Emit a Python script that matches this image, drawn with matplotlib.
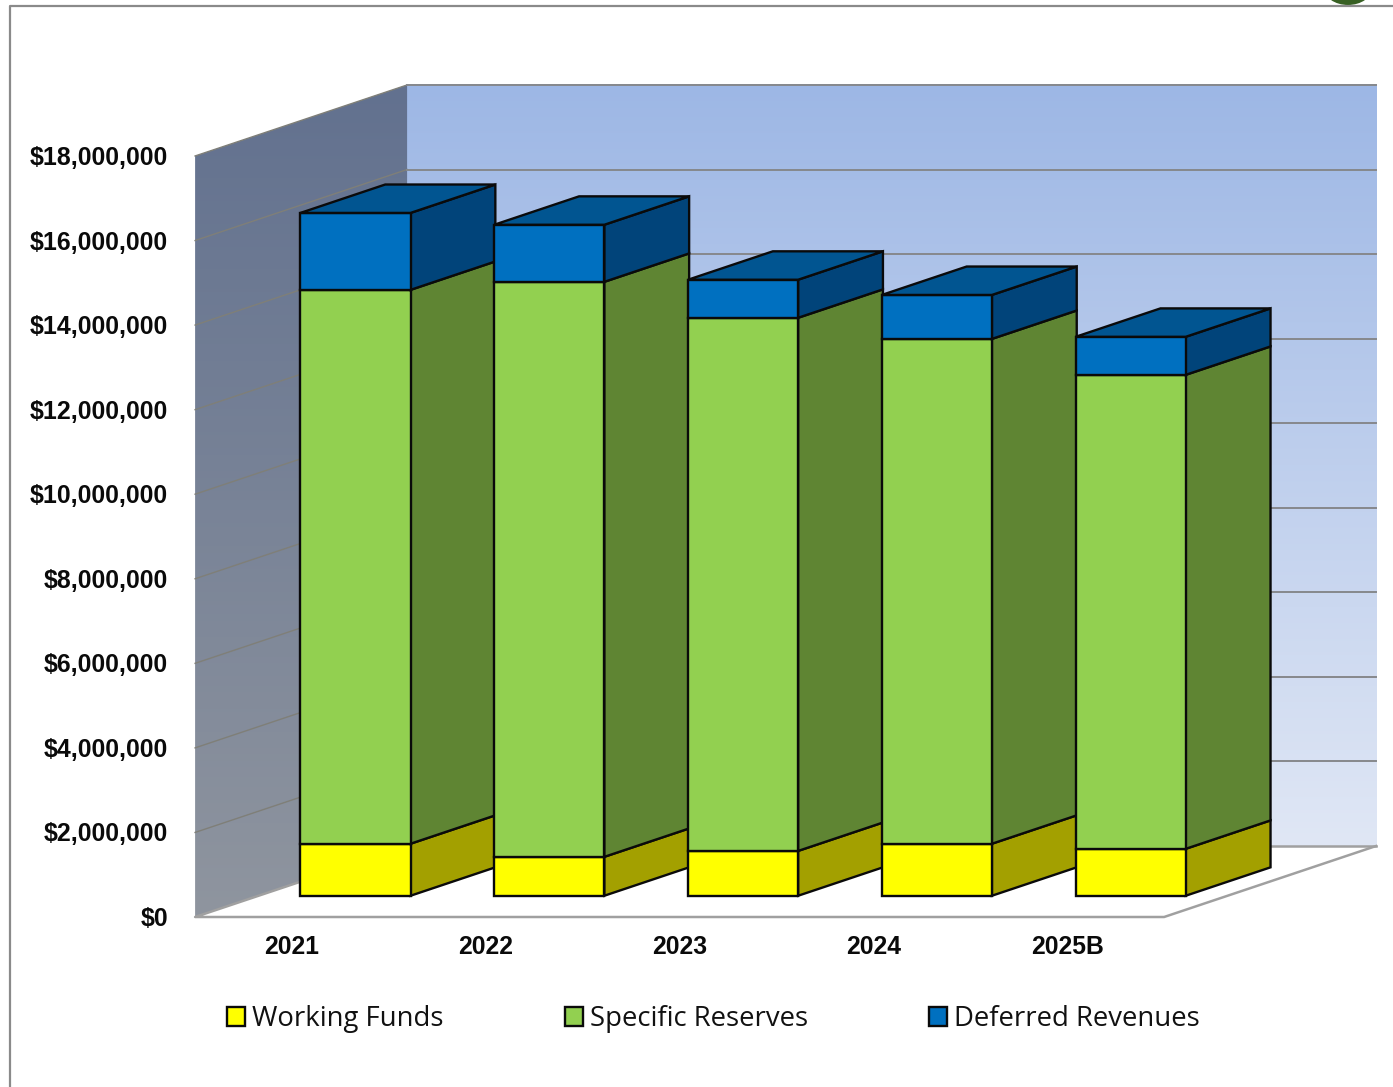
import numpy as np
import matplotlib
matplotlib.use('Agg')
import matplotlib.pyplot as plt
from matplotlib.colors import LinearSegmentedColormap
from matplotlib.patches import Polygon, Rectangle, Ellipse
from matplotlib.transforms import Affine2D

# data
years = ['2021', '2022', '2023', '2024', '2025B']
working_funds = [1.23e6, 0.92e6, 1.06e6, 1.23e6, 1.11e6]
specific_reserves = [13.10e6, 13.60e6, 12.61e6, 11.94e6, 11.21e6]
deferred_revenues = [1.82e6, 1.35e6, 0.90e6, 1.04e6, 0.90e6]
y_ticks = [0, 2e6, 4e6, 6e6, 8e6, 10e6, 12e6, 14e6, 16e6, 18e6]
series_names = ['Working Funds', 'Specific Reserves', 'Deferred Revenues']

W, H = 1393, 1087
PX_PER_CAT = 193.8
PX_PER_DOLLAR = 42.28 / 1e6
X0_PX, Y0_PX = 292.0, 917.0

# fake 3d: depth 0 is the front of the floor, depth 1 the back wall
DEPTH_X = 212 / PX_PER_CAT
DEPTH_Y = 71 / PX_PER_DOLLAR
BAR_D0, BAR_D1 = 0.2995, 0.6995
BAR_HALF = 0.284
XMIN, XMAX = -0.5, 4.5
YMAX = y_ticks[-1]

front_cols = ['#ffff00', '#92d050', '#0070c0']
side_cols = ['#a3a000', '#5f8533', '#01447a']
top_col = '#015591'
grid_col = '#86888c'
EDGE = '#0a0a0a'
EDGE_W = 1.7


def proj(x, v, d):
    return x + DEPTH_X * d, v + DEPTH_Y * d


fig = plt.figure(figsize=(W / 100, H / 100), dpi=100, facecolor='white')
ax = fig.add_axes([0, 0, 1, 1])
ax.axis('off')

# pixel coordinates for the furniture around the chart
px = Affine2D().scale(1 / W, -1 / H).translate(0, 1) + ax.transAxes

# back wall
grad = np.linspace(0, 1, 256).reshape(-1, 1)
back_cmap = LinearSegmentedColormap.from_list('back', ['#9db7e5', '#e0e7f5'])
bx0, by0 = proj(XMIN, 0, 1)
bx1, by1 = proj(XMAX, YMAX, 1)
ax.imshow(grad, extent=[bx0, bx1, by0, by1], aspect='auto', cmap=back_cmap,
          origin='upper', zorder=1)

# left wall
left_cmap = LinearSegmentedColormap.from_list('left', ['#62718f', '#8f959f'])
lx0, ly0 = proj(XMIN, 0, 0)
lx1, ly1 = proj(XMIN, YMAX, 1)
im = ax.imshow(grad, extent=[lx0, lx1, ly0, ly1], aspect='auto', cmap=left_cmap,
               origin='upper', zorder=1)
wall = Polygon([proj(XMIN, 0, 0), proj(XMIN, 0, 1), proj(XMIN, YMAX, 1), proj(XMIN, YMAX, 0)],
               closed=True, transform=ax.transData)
im.set_clip_path(wall)

# imshow resets the limits, so set them afterwards
ax.set_xlim((0 - X0_PX) / PX_PER_CAT, (W - X0_PX) / PX_PER_CAT)
ax.set_ylim((Y0_PX - H) / PX_PER_DOLLAR, Y0_PX / PX_PER_DOLLAR)

# gridlines
for v in y_ticks:
    if v == 0:
        continue
    a = proj(XMIN, v, 0)
    b = proj(XMIN, v, 1)
    c = proj(XMAX, v, 1)
    ax.plot([a[0], b[0]], [a[1], b[1]], color='#7f7f78', lw=1.0, zorder=2)
    ax.plot([b[0], c[0]], [b[1], c[1]], color=grid_col, lw=1.4, zorder=2)

# floor outline
floor = [proj(XMIN, 0, 1), proj(XMIN, 0, 0), proj(XMAX, 0, 0), proj(XMAX, 0, 1)]
ax.add_patch(Polygon(floor, closed=True, facecolor='white', edgecolor='none', zorder=2))
ax.plot([p[0] for p in floor], [p[1] for p in floor], color='#a0a0a0', lw=1.8, zorder=3)
b0, b1 = proj(XMIN, 0, 1), proj(XMAX, 0, 1)
ax.plot([b0[0], b1[0]], [b0[1], b1[1]], color='#a0a0a0', lw=1.8, zorder=3)

# bars, left to right so each front hides the previous side
z = 4
for i in range(len(years)):
    base = 0
    for vals, fc, sc in zip([working_funds, specific_reserves, deferred_revenues], front_cols, side_cols):
        top = base + vals[i]
        l, r = i - BAR_HALF, i + BAR_HALF
        side = [proj(r, base, BAR_D0), proj(r, base, BAR_D1), proj(r, top, BAR_D1), proj(r, top, BAR_D0)]
        front = [proj(l, base, BAR_D0), proj(r, base, BAR_D0), proj(r, top, BAR_D0), proj(l, top, BAR_D0)]
        ax.add_patch(Polygon(side, closed=True, facecolor=sc, edgecolor=EDGE, lw=EDGE_W, zorder=z))
        ax.add_patch(Polygon(front, closed=True, facecolor=fc, edgecolor=EDGE, lw=EDGE_W, zorder=z))
        base = top
    lid = [proj(l, base, BAR_D0), proj(r, base, BAR_D0), proj(r, base, BAR_D1), proj(l, base, BAR_D1)]
    ax.add_patch(Polygon(lid, closed=True, facecolor=top_col, edgecolor=EDGE, lw=EDGE_W, zorder=z))
    z += 1

# axis labels
label_font = {'family': 'Liberation Sans', 'weight': 'bold', 'color': '#0a0a0a'}
for v in y_ticks:
    ax.annotate('${:,.0f}'.format(v), xy=(XMIN, v), xytext=(-27, -2), textcoords='offset pixels',
                ha='right', va='center', size=17.9, zorder=20, **label_font)
for i, name in enumerate(years):
    ax.annotate(name, xy=(i, 0), xytext=(0, -30), textcoords='offset pixels',
                ha='center', va='center', size=17.8, zorder=20, **label_font)

# legend
swatch_x = [227, 565, 929]
for sx, name, fc in zip(swatch_x, series_names, front_cols):
    ax.add_patch(Rectangle((sx, 1007), 18, 19, facecolor=fc, edgecolor=EDGE, lw=EDGE_W,
                           transform=px, zorder=20))
    ax.text(sx + 25.5, 1026, name, transform=px, family='Open Sans', size=19.85, color='#111111',
            ha='left', va='baseline', zorder=20)

# chart frame and the corner of the logo
ax.add_patch(Ellipse((1348, -12), 48, 34, facecolor='#376023', edgecolor='none', transform=px, zorder=19))
ax.plot([10, 10, W], [H, 6, 6], color='#8a8a8a', lw=1.6, transform=px, zorder=20)

fig.savefig('out.png', dpi=100)
